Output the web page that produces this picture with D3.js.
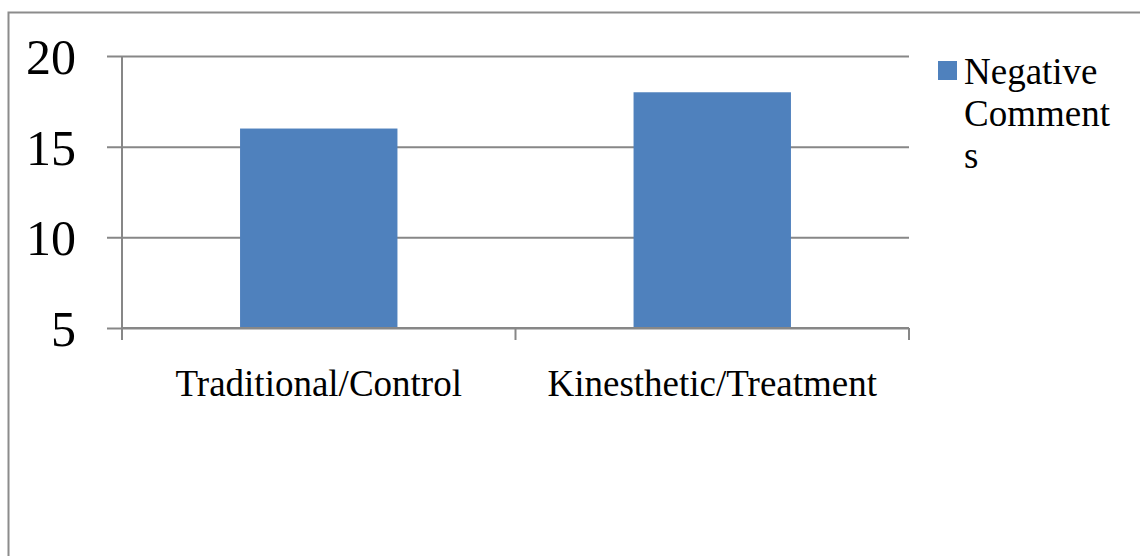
<!DOCTYPE html>
<html>
<head>
<meta charset="utf-8">
<script src="https://cdn.jsdelivr.net/npm/d3@7"></script>
<style>
  html, body { margin: 0; padding: 0; background: #fff; }
  svg { display: block; }
</style>
</head>
<body>
<svg id="chart" width="1140" height="556"></svg>
<script>
// Negative comments per instruction group
const categories = ["Traditional/Control", "Kinesthetic/Treatment"];
const negativeComments = [16, 18];
const yTicks = [5, 10, 15, 20];
const seriesName = ["Negative", "Comment", "s"];

const W = 1140, H = 556;
const plot = { left: 122, right: 909, top: 56, bottom: 328 };
const gridColor = "#878787";
const barColor = "#4F81BD";
const font = "\"Liberation Serif\", \"Times New Roman\", serif";

const svg = d3.select("#chart");

// chart frame
svg.append("rect")
  .attr("x", 8.5).attr("y", 12.5)
  .attr("width", W + 10).attr("height", H + 10)
  .attr("fill", "none").attr("stroke", "#8c8c8c").attr("stroke-width", 2);

const x = d3.scaleBand()
  .domain(categories)
  .range([plot.left, plot.right])
  .paddingInner(0.6).paddingOuter(0.3);

const y = d3.scaleLinear()
  .domain([5, 20])
  .range([plot.bottom, plot.top]);

// horizontal gridlines with outward ticks
const yAxis = d3.axisLeft(y)
  .tickValues(yTicks)
  .tickSize(plot.right - plot.left + 15)
  .tickFormat(d3.format("d"));

const gy = svg.append("g")
  .attr("transform", `translate(${plot.right},0)`)
  .call(yAxis)
  .attr("font-family", null)
  .attr("font-size", null);
gy.select(".domain").remove();
gy.selectAll(".tick line").attr("stroke", gridColor).attr("stroke-width", 2);
gy.selectAll(".tick text")
  .attr("x", -(plot.right - 76))
  .attr("dy", "0.35em")
  .attr("fill", "#000")
  .style("font-family", font)
  .style("font-size", "50px");

// bars
svg.append("g").selectAll("rect")
  .data(categories)
  .join("rect")
  .attr("x", d => x(d))
  .attr("width", x.bandwidth())
  .attr("y", (d, i) => y(negativeComments[i]))
  .attr("height", (d, i) => y(5) - y(negativeComments[i]))
  .attr("fill", barColor);

// vertical axis line
svg.append("line")
  .attr("x1", plot.left).attr("x2", plot.left)
  .attr("y1", plot.top).attr("y2", plot.bottom + 12)
  .attr("stroke", gridColor).attr("stroke-width", 2);

// category axis with boundary ticks
svg.append("line")
  .attr("x1", plot.left).attr("x2", plot.right)
  .attr("y1", plot.bottom).attr("y2", plot.bottom)
  .attr("stroke", gridColor).attr("stroke-width", 2);

const boundaries = d3.range(categories.length + 1)
  .map(i => plot.left + i * (plot.right - plot.left) / categories.length);
svg.append("g").selectAll("line")
  .data(boundaries)
  .join("line")
  .attr("x1", d => d).attr("x2", d => d)
  .attr("y1", plot.bottom).attr("y2", plot.bottom + 12)
  .attr("stroke", gridColor).attr("stroke-width", 2);

svg.append("g").selectAll("text")
  .data(categories)
  .join("text")
  .attr("x", d => x(d) + x.bandwidth() / 2)
  .attr("y", 396)
  .attr("text-anchor", "middle")
  .attr("fill", "#000")
  .style("font-family", font)
  .style("font-size", "37px")
  .text(d => d);

// legend
const legend = svg.append("g");
legend.append("rect")
  .attr("x", 938).attr("y", 61)
  .attr("width", 19).attr("height", 19)
  .attr("fill", barColor);
legend.selectAll("text")
  .data(seriesName)
  .join("text")
  .attr("x", 964)
  .attr("y", (d, i) => 84 + i * 42)
  .attr("fill", "#000")
  .style("font-family", font)
  .style("font-size", "37px")
  .text(d => d);
</script>
</body>
</html>
